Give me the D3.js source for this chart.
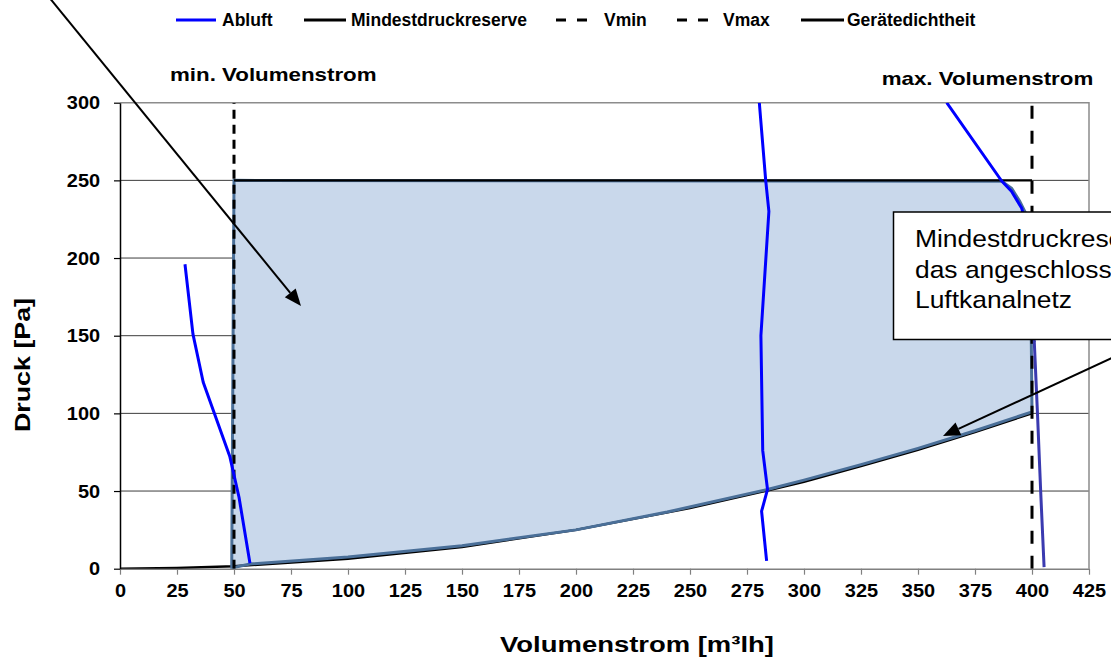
<!DOCTYPE html>
<html lang="de">
<head>
    <meta charset="UTF-8">
    <title>Druck / Volumenstrom</title>
    <style>
        body { margin: 0; background: #fff; }
        svg { display: block; font-family: "Liberation Sans", Arial, sans-serif; }
    </style>
</head>
<body>
    <div id="chart"></div>

    <script src="https://d3js.org/d3.v7.min.js"></script>
    <script>
        // ---- data ----
        const xTicks = [0, 25, 50, 75, 100, 125, 150, 175, 200, 225, 250, 275, 300, 325, 350, 375, 400, 425];
        const yTicks = [0, 50, 100, 150, 200, 250, 300];
        const legendLabels = ["Abluft", "Mindestdruckreserve", "Vmin", "Vmax", "Gerätedichtheit"];

        // [Volumenstrom, Druck]
        const abluftLinks = [[28.5, 196], [32, 151], [36.5, 120], [48.2, 72], [52.2, 46], [57, 3.5]];
        const abluftMitte = [[280.4, 300], [283.2, 250], [284.6, 230], [281.1, 150], [281.9, 76], [284, 51], [281.4, 37], [283.6, 5]];
        const abluftRechts = [[362.6, 300], [386.7, 249.6], [391, 243], [395.5, 232], [398.5, 215]];
        const abluftRechtsUnten = [[398.5, 215], [400.5, 180], [401, 146], [402.4, 100], [403.8, 50], [405.3, 1]];
        const mindestdruckreserve = [[0, 0], [25, 0.5], [50, 1.6], [100, 6.3], [150, 14], [200, 25], [250, 39], [283, 50], [300, 56], [325, 66], [350, 76.5], [375, 88], [400, 100]];
        const geraetedichtheit = [[50, 250], [400, 250]];
        const vmin = [[50, 0], [50, 300]];
        const vmax = [[400, 0], [400, 300]];
        const arbeitsbereich = [[49, 0.5], [50, 250], [386.7, 249.5], [391, 245], [394.7, 236.3], [397.5, 228], [399.5, 215],
            [399.7, 146], [400, 101], [375, 88.8], [350, 77.5], [325, 67], [300, 57], [284, 51], [240, 36.5], [200, 25], [150, 14.8], [100, 7.5], [57, 3], [49, 0.5]];
        const boxLines = ["Mindestdruckreserve für", "das angeschlossene", "Luftkanalnetz"];

        const W = 1111, H = 659;
        const x = d3.scaleLinear().domain([0, 425]).range([120, 1089]);
        const y = d3.scaleLinear().domain([0, 300]).range([568.7, 102.7]);

        const svg = d3.select('#chart').append('svg')
            .attr('width', W)
            .attr('height', H);
        svg.append('rect').attr('width', W).attr('height', H).attr('fill', '#fff');

        svg.append('clipPath').attr('id', 'plot')
            .append('rect')
            .attr('x', x(0)).attr('y', y(300))
            .attr('width', x(425) - x(0)).attr('height', y(0) - y(300));

        // text with the horizontal stretch of the original
        const label = (g, px, py, str, size, weight, anchor, sx, rot) => g.append('text')
            .attr('transform', `translate(${px},${py})${rot ? ` rotate(${rot})` : ''} scale(${sx},1)`)
            .attr('font-size', size)
            .attr('font-weight', weight)
            .attr('text-anchor', anchor)
            .attr('fill', '#000')
            .text(str);

        // grid
        svg.append('g')
            .selectAll('line')
            .data(yTicks.filter(t => t > 0 && t < 300))
            .enter()
            .append('line')
            .attr('x1', x(0)).attr('x2', x(425))
            .attr('y1', d => y(d)).attr('y2', d => y(d))
            .attr('stroke', '#3c3c3c').attr('stroke-width', 1);
        svg.append('path')
            .attr('d', `M${x(0)},${y(300)}H${x(425)}V${y(0)}`)
            .attr('fill', 'none').attr('stroke', '#8c8c8c').attr('stroke-width', 1.5);

        // axes
        const xAxis = svg.append('g')
            .attr('transform', `translate(0,${y(0)})`)
            .call(d3.axisBottom(x).tickValues(xTicks).tickSize(6).tickSizeOuter(0).tickPadding(9));
        xAxis.select('.domain').attr('stroke', '#808080').attr('stroke-width', 1.5);
        xAxis.selectAll('.tick line').attr('stroke', '#808080').attr('stroke-width', 1.2);
        xAxis.selectAll('text')
            .attr('font-size', 19).attr('font-weight', 'bold').attr('fill', '#000')
            .attr('font-family', '"Liberation Sans", Arial, sans-serif')
            .attr('transform', 'scale(1.05,1)');

        const yAxis = svg.append('g')
            .attr('transform', `translate(${x(0)},0)`)
            .call(d3.axisLeft(y).tickValues(yTicks).tickSize(6).tickSizeOuter(0).tickPadding(13));
        yAxis.select('.domain').attr('stroke', '#000').attr('stroke-width', 1.5);
        yAxis.selectAll('.tick line').attr('stroke', '#000').attr('stroke-width', 1.2);
        yAxis.selectAll('text')
            .attr('font-size', 19).attr('font-weight', 'bold').attr('fill', '#000')
            .attr('font-family', '"Liberation Sans", Arial, sans-serif')
            .attr('transform', 'scale(1.05,1)');

        const line = d3.line().x(d => x(d[0])).y(d => y(d[1]));
        const plot = svg.append('g').attr('clip-path', 'url(#plot)');

        // area between the limits: fill, reserve curve, then outline on top
        const areaPath = line(arbeitsbereich) + 'Z';
        plot.append('path').attr('d', areaPath).attr('fill', '#c9d8eb');
        plot.append('path').attr('d', line(mindestdruckreserve))
            .attr('fill', 'none').attr('stroke', '#000').attr('stroke-width', 2.4);
        plot.append('path')
            .attr('d', areaPath)
            .attr('fill', 'none')
            .attr('stroke', '#4a6f98')
            .attr('stroke-width', 3)
            .attr('stroke-linejoin', 'round');

        plot.append('path').attr('d', line(geraetedichtheit))
            .attr('fill', 'none').attr('stroke', '#000').attr('stroke-width', 2.2);

        plot.append('path').attr('d', line(vmin))
            .attr('fill', 'none').attr('stroke', '#000').attr('stroke-width', 3).attr('stroke-dasharray', '9,6');
        plot.append('path').attr('d', line(vmax))
            .attr('fill', 'none').attr('stroke', '#000').attr('stroke-width', 3).attr('stroke-dasharray', '13,12');

        [abluftLinks, abluftMitte, abluftRechts].forEach(s => {
            plot.append('path').attr('d', line(s))
                .attr('fill', 'none').attr('stroke', '#0000ff').attr('stroke-width', 3)
                .attr('stroke-linejoin', 'round');
        });
        plot.append('path').attr('d', line(abluftRechtsUnten))
            .attr('fill', 'none').attr('stroke', '#3a3ab0').attr('stroke-width', 3);

        // annotations
        label(svg, 170, 81, 'min. Volumenstrom', 18.6, 'bold', 'start', 1.2);
        label(svg, 881.7, 85, 'max. Volumenstrom', 18.6, 'bold', 'start', 1.2);

        const arrow = (x1, y1, x2, y2) => {
            const a = Math.atan2(y2 - y1, x2 - x1), len = 17, hw = 7;
            const bx = x2 - len * Math.cos(a), by = y2 - len * Math.sin(a);
            svg.append('line')
                .attr('x1', x1).attr('y1', y1).attr('x2', bx).attr('y2', by)
                .attr('stroke', '#000').attr('stroke-width', 2);
            svg.append('path')
                .attr('d', `M${x2},${y2}L${bx + hw * Math.sin(a)},${by - hw * Math.cos(a)}L${bx - hw * Math.sin(a)},${by + hw * Math.cos(a)}Z`)
                .attr('fill', '#000');
        };
        arrow(35, -20, 301, 306);
        arrow(1125, 352, 943, 436);

        // callout box, running past the right edge as in the original
        const box = svg.append('g');
        box.append('rect')
            .attr('x', 893.5).attr('y', 212)
            .attr('width', 260).attr('height', 127.5)
            .attr('fill', '#fff').attr('stroke', '#000').attr('stroke-width', 1.5);
        boxLines.forEach((t, i) => label(box, 915, 247 + i * 30.5, t, 24, 'normal', 'start', 1.1));

        // axis titles
        label(svg, 30, 365, 'Druck [Pa]', 22, 'bold', 'middle', 1.22, -90);
        label(svg, 637, 652, 'Volumenstrom [m³lh]', 22.5, 'bold', 'middle', 1.22);

        // legend
        const legend = svg.append('g').attr('class', 'legend');
        const legendLayout = [
            { x1: 176, x2: 216, tx: 222, stroke: '#0000ff', dash: null },
            { x1: 304, x2: 346, tx: 351, stroke: '#000', dash: null },
            { x1: 556, x2: 588, tx: 604, stroke: '#000', dash: '10,11' },
            { x1: 677, x2: 711, tx: 723, stroke: '#000', dash: '10,11' },
            { x1: 801, x2: 844, tx: 847, stroke: '#000', dash: null }
        ];
        legendLabels.forEach((name, i) => {
            const l = legendLayout[i];
            legend.append('line')
                .attr('x1', l.x1).attr('x2', l.x2).attr('y1', 20).attr('y2', 20)
                .attr('stroke', l.stroke).attr('stroke-width', 3)
                .attr('stroke-dasharray', l.dash);
            label(legend, l.tx, 26, name, 17.5, 'bold', 'start', 1);
        });
    </script>
</body>
</html>
